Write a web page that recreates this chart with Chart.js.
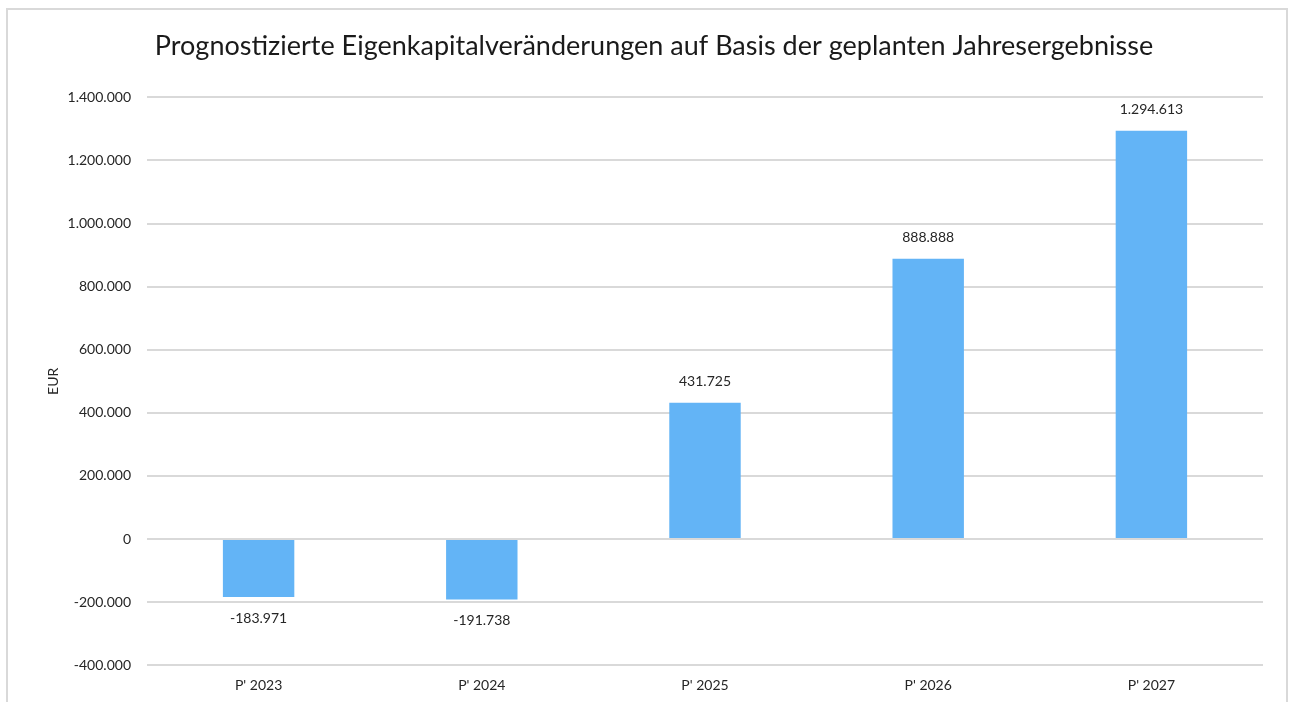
<!DOCTYPE html>
<html>
<head>
<meta charset="utf-8">
<script src="https://cdn.jsdelivr.net/npm/chart.js@4.4.0/dist/chart.umd.min.js"></script>
<style>
  html, body { margin: 0; padding: 0; background: #ffffff; overflow: hidden; }
  #frame { position: absolute; left: 6px; top: 8px; width: 1282px; height: 700px; border: 2px solid #d9d9d9; border-bottom: none; box-sizing: border-box; }
  #wrap { position: absolute; left: 0; top: 0; width: 1292px; height: 706px; }
</style>
</head>
<body>
<div id="frame"></div>
<div id="wrap"><canvas id="chart" width="1292" height="706"></canvas></div>
<script>
// Planned equity changes per forecast year (EUR)
const categories = ["P' 2023", "P' 2024", "P' 2025", "P' 2026", "P' 2027"];
const equityChange = [-183971, -191738, 431725, 888888, 1294613];
const yTicks = { min: -400000, max: 1400000, step: 200000 };

const FONT = "Lato, 'Open Sans', sans-serif";

function formatDE(v) {
  const neg = v < 0;
  const s = Math.round(Math.abs(v)).toString().replace(/\B(?=(\d{3})+(?!\d))/g, '.');
  return (neg ? '-' : '') + s;
}

// Writes each bar's value above positive bars and below negative ones
const valueLabels = {
  id: 'valueLabels',
  afterDatasetsDraw(chart) {
    const ctx = chart.ctx;
    const meta = chart.getDatasetMeta(0);
    ctx.save();
    ctx.font = "14px " + FONT;
    ctx.fillStyle = '#262626';
    ctx.textAlign = 'center';
    ctx.textBaseline = 'middle';
    meta.data.forEach((bar, i) => {
      const v = chart.data.datasets[0].data[i];
      const y = v >= 0 ? bar.y - 21 : bar.y + 21;
      ctx.fillText(formatDE(v), bar.x, y);
    });
    ctx.restore();
  }
};

new Chart(document.getElementById('chart'), {
  type: 'bar',
  data: {
    labels: categories,
    datasets: [{
      data: equityChange,
      backgroundColor: '#63b4f6',
      borderWidth: 0,
      categoryPercentage: 1,
      barPercentage: 0.32
    }]
  },
  options: {
    responsive: false,
    animation: false,
    devicePixelRatio: 1,
    layout: { padding: { left: 45, right: 29, top: 30, bottom: 0 } },
    plugins: {
      legend: { display: false },
      tooltip: { enabled: false },
      title: {
        display: true,
        text: 'Prognostizierte Eigenkapitalveränderungen auf Basis der geplanten Jahresergebnisse',
        color: '#1a1a1a',
        font: { family: FONT, size: 27, weight: 'normal' },
        padding: { top: 0, bottom: 35 }
      }
    },
    scales: {
      x: {
        grid: { display: false, drawTicks: false },
        border: { display: false },
        ticks: { color: '#262626', font: { family: FONT, size: 14 }, padding: 12 }
      },
      y: {
        min: yTicks.min,
        max: yTicks.max,
        afterFit(scale) { scale.width = 102; },
        grid: { color: '#d9d9d9', lineWidth: 2, drawTicks: false },
        border: { display: false },
        ticks: {
          stepSize: yTicks.step,
          color: '#262626',
          font: { family: FONT, size: 14 },
          padding: 16,
          callback: (v) => formatDE(v)
        },
        title: {
          display: true,
          text: 'EUR',
          color: '#262626',
          font: { family: FONT, size: 14 },
          padding: { top: 0, bottom: 6 }
        }
      }
    }
  },
  plugins: [valueLabels]
});
</script>
</body>
</html>
